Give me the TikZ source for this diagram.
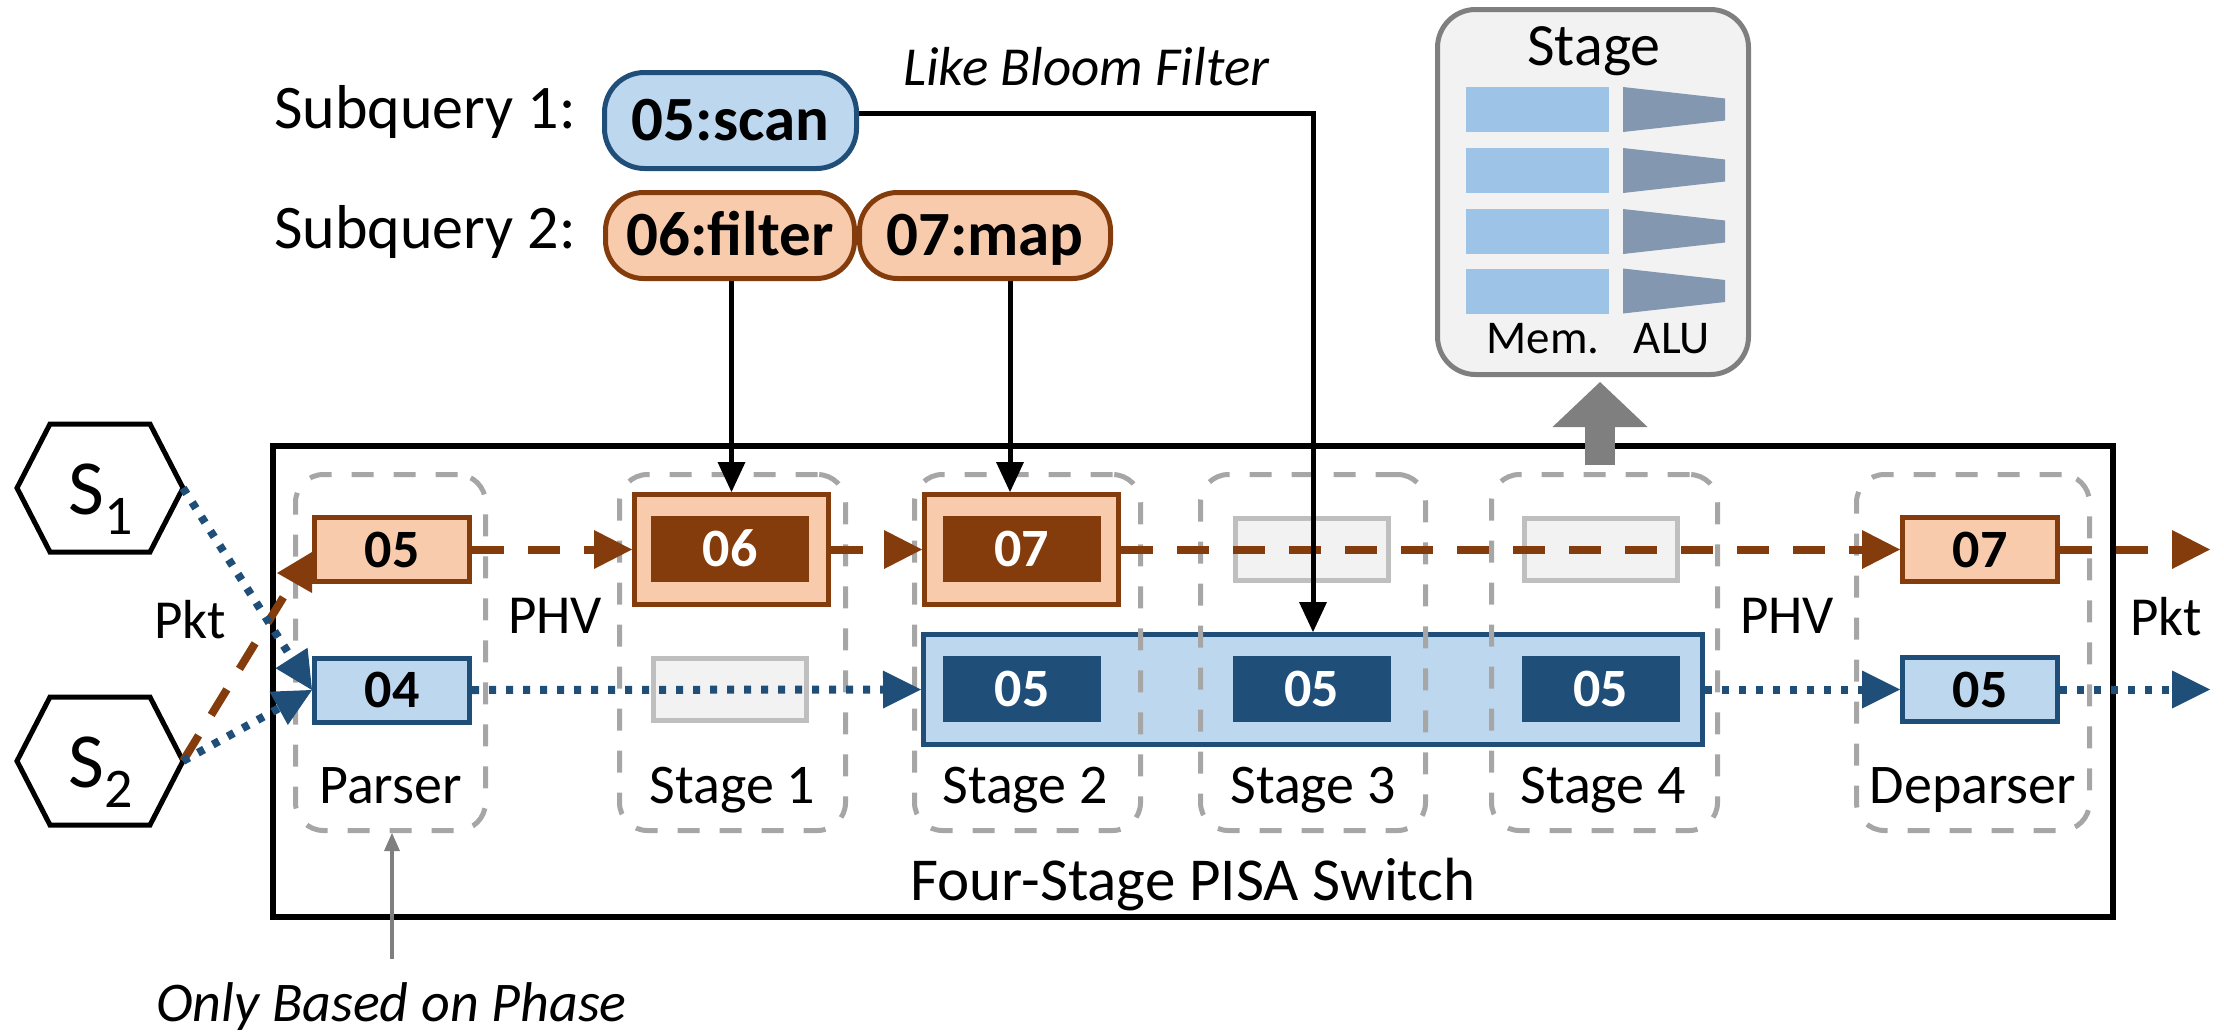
\documentclass[tikz,border=0pt]{standalone}
\usepackage{fontspec}
\setmainfont{Carlito}
\usetikzlibrary{arrows.meta,calc}
\definecolor{brn}{HTML}{843C0C}
\definecolor{peach}{HTML}{F8CBAD}
\definecolor{dblue}{HTML}{1F4E79}
\definecolor{lblue}{HTML}{BDD7EE}
\definecolor{memblue}{HTML}{9DC3E6}
\definecolor{alublue}{HTML}{8497B0}
\definecolor{lgray}{HTML}{F2F2F2}
\definecolor{egray}{HTML}{BFBFBF}
\definecolor{dgray}{HTML}{A6A6A6}
\definecolor{mgray}{HTML}{7F7F7F}
\newcommand{\fsz}[1]{\fontsize{#1}{#1}\selectfont}
\tikzset{
  lbl/.style={font=\fsz{56}, anchor=base, inner sep=0pt},
  numbox/.style={line width=5pt, minimum width=155pt, minimum height=64pt, inner sep=0pt, font=\fsz{54}\bfseries, text height=35pt, text depth=0pt},
  pbox/.style={numbox, draw=brn, fill=peach},
  bbox/.style={numbox, draw=dblue, fill=lblue},
  ebox/.style={draw=egray, fill=lgray, line width=5pt, minimum width=153pt, minimum height=62pt, inner sep=0pt},
  darkb/.style={minimum width=158pt, minimum height=66pt, inner sep=0pt, text=white, font=\fsz{54}\bfseries, text height=35pt, text depth=0pt},
  outerb/.style={draw=brn, fill=peach, line width=5pt, minimum width=194pt, minimum height=110pt, inner sep=0pt},
  stagebox/.style={draw=dgray, line width=5pt, dash pattern=on 22pt off 20pt, rounded corners=28pt, minimum height=356pt, inner sep=0pt},
  pill/.style={line width=5pt, rounded corners=40pt, inner sep=0pt, font=\fsz{63}\bfseries, text height=40pt, text depth=0pt},
  brline/.style={draw=brn, line width=8pt, dash pattern=on 32pt off 24pt, -{Triangle[length=38pt,width=39pt,line width=0pt]}},
  blline/.style={draw=dblue, line width=8pt, dash pattern=on 7pt off 10pt, -{Triangle[length=38pt,width=38pt,line width=0pt]}},
  qline/.style={draw=black, line width=5pt, -{Triangle[length=30pt,width=28pt,line width=0pt]}},
  hexa/.style={draw=black, line width=5pt, line join=miter},
}
\begin{document}
\begin{tikzpicture}[x=1pt,y=-1pt]
\useasboundingbox (0,0) rectangle (2224,1031);

% main switch box
\node[draw, line width=6pt, minimum width=1840pt, minimum height=471pt, inner sep=0pt] (sw) at (1193,681.5) {};
\node[lbl, font=\fsz{61}] (swl) at (1193,900) {Four-Stage PISA Switch};

% big blue box
\node[draw=dblue, fill=lblue, line width=5pt, minimum width=779pt, minimum height=110pt, inner sep=0pt] (bigb) at (1313,689.5) {};

% stage boxes
\node[stagebox, minimum width=190pt] (pars) at (390.5,652.5) {};
\node[stagebox, minimum width=226pt] (st1) at (732.5,652.5) {};
\node[stagebox, minimum width=226pt] (st2) at (1027.5,652.5) {};
\node[stagebox, minimum width=225pt] (st3) at (1313,652.5) {};
\node[stagebox, minimum width=226pt] (st4) at (1604.5,652.5) {};
\node[stagebox, minimum width=233pt] (dep) at (1973,652.5) {};

\node[lbl] (lpars) at (390.5,803) {Parser};
\node[lbl] (lst1) at (732.5,803) {Stage 1};
\node[lbl] (lst2) at (1025,803) {Stage 2};
\node[lbl] (lst3) at (1313,803) {Stage 3};
\node[lbl] (lst4) at (1603,803) {Stage 4};
\node[lbl] (ldep) at (1973,803) {Deparser};

\node[lbl, font=\fsz{55}] (phv1) at (555,633) {PHV};
\node[lbl, font=\fsz{55}] (phv2) at (1787,633) {PHV};
\node[lbl, font=\fsz{55}] (pkt1) at (190,638) {Pkt};
\node[lbl, font=\fsz{55}] (pkt2) at (2166,635) {Pkt};

% parser boxes
\node[pbox] (p05) at (392,549.5) {05};
\node[bbox] (p04) at (392,690) {04};

% stage 1
\node[outerb] (b06) at (731.5,549.5) {};
\node[darkb, fill=brn] (i06) at (730,549) {06};
\node[ebox] (e1) at (730,689.5) {};

% stage 2
\node[outerb] (b07) at (1021.5,549.5) {};
\node[darkb, fill=brn] (i07) at (1021.5,549) {07};

% stage 3 / 4 empty
\node[ebox] (e3) at (1312,549) {};
\node[ebox] (e4) at (1600.5,549) {};

% dark 05 boxes
\node[darkb, fill=dblue] (d1) at (1022,689) {05};
\node[darkb, fill=dblue] (d2) at (1311.5,689) {05};
\node[darkb, fill=dblue] (d3) at (1600.5,689) {05};

% deparser boxes
\node[pbox] (d07) at (1980,549.5) {07};
\node[bbox] (d05) at (1980,689.5) {05};

% hexagons
\coordinate (h1) at (100,488);
\coordinate (h2) at (100,761);
\draw[hexa] ($(h1)+(-83,0)$) -- ++(33,-64) -- ++(100,0) -- ++(33,64) -- ++(-33,64) -- ++(-100,0) -- cycle;
\draw[hexa] ($(h2)+(-83,0)$) -- ++(33,-64) -- ++(100,0) -- ++(33,64) -- ++(-33,64) -- ++(-100,0) -- cycle;
\node[inner sep=0pt] (S1) at (101,499.5) {\fsz{78}S\raisebox{-20pt}{\fsz{56}1}};
\node[inner sep=0pt] (S2) at (101,772.5) {\fsz{78}S\raisebox{-20pt}{\fsz{56}2}};
\coordinate (S1e) at ($(h1)+(83,0)$);
\coordinate (S2e) at ($(h2)+(83,0)$);

% subqueries
\node[lbl, anchor=base west, font=\fsz{62}] (sq1) at (274,128) {Subquery 1:};
\node[lbl, anchor=base west, font=\fsz{62}] (sq2) at (274,248) {Subquery 2:};
\node[pill, draw=dblue, fill=lblue, minimum width=252pt, minimum height=96pt] (scan) at (730.5,120.5) {05:scan};
\node[pill, draw=brn, fill=peach, rounded corners=38pt, minimum width=249pt, minimum height=86pt] (filter) at (730,235.5) {06:filter};
\node[pill, draw=brn, fill=peach, rounded corners=38pt, minimum width=251pt, minimum height=86pt] (map) at (985,235.5) {07:map};
\node[lbl, anchor=base west, font=\fsz{55}\itshape] (lbf) at (903,85) {Like Bloom Filter};

% callout
\node[draw=mgray, fill=lgray, line width=5pt, rounded corners=38pt, minimum width=311pt, minimum height=365pt, inner sep=0pt] (call) at (1593,192) {};
\node[lbl, font=\fsz{60}] (ctitle) at (1594,65) {Stage};
\foreach \yy in {109.5,170.5,231.5,291} {
  \fill[memblue] (1466,\yy-22.5) rectangle (1609,\yy+22.5);
  \fill[alublue] (1623,\yy-22.5) -- (1725,\yy-11) -- (1725,\yy+11) -- (1623,\yy+22.5) -- cycle;
}
\node[lbl, font=\fsz{47}] (mem) at (1543,353) {Mem.};
\node[lbl, font=\fsz{47}] (alu) at (1672,353) {ALU};

% big gray arrow
\coordinate (ga0) at (1600,465);
\coordinate (ga1) at (1600,382);
\draw[draw=mgray, line width=30pt, -{Triangle[length=45pt,width=95pt,line width=0pt]}] (ga0) -- (ga1);

% brown path
\draw[brline] (p05.east) -- (b06.west);
\draw[brline] (b06.east) -- (b07.west);
\draw[brline] (b07.east) -- (d07.west);
\coordinate (outB) at (2210,549.5);
\draw[brline] (d07.east) -- (outB);
\coordinate (bk) at (289,588);
\draw[draw=brn, line width=8pt, dash pattern=on 30pt off 24pt] (S2e) -- (bk);
\fill[brn] ($(p05.west)+(0,2.5)$) -- ($(p05.west)+(-35,23.5)$) -- ($(p05.west)+(0,43.5)$) -- cycle;

% blue path
\draw[blline] (S1e) -- (p04.west);
\draw[blline] (S2e) -- (p04.west);
\draw[blline] (p04.east) -- (bigb.west);
\draw[blline] (bigb.east) -- (d05.west);
\coordinate (outb) at (2210,689.5);
\draw[blline] (d05.east) -- (outb);

% query lines
\draw[qline] ([yshift=7pt]scan.east) -| (st3.north |- bigb.north);
\draw[qline] (filter.south -| b06.north) -- (b06.north);
\coordinate (mx) at (1010,0);
\draw[qline] (map.south -| mx) -- (b07.north -| mx);

% only based on phase
\node[lbl, anchor=base west, font=\fsz{56}\itshape] (obp) at (156,1021) {Only Based on Phase};
\coordinate (ob0) at (392,959);
\draw[draw=mgray, line width=4pt, -{Triangle[length=18pt,width=16pt,line width=0pt]}] (ob0) -- (pars.south -| ob0);
\end{tikzpicture}
\end{document}
